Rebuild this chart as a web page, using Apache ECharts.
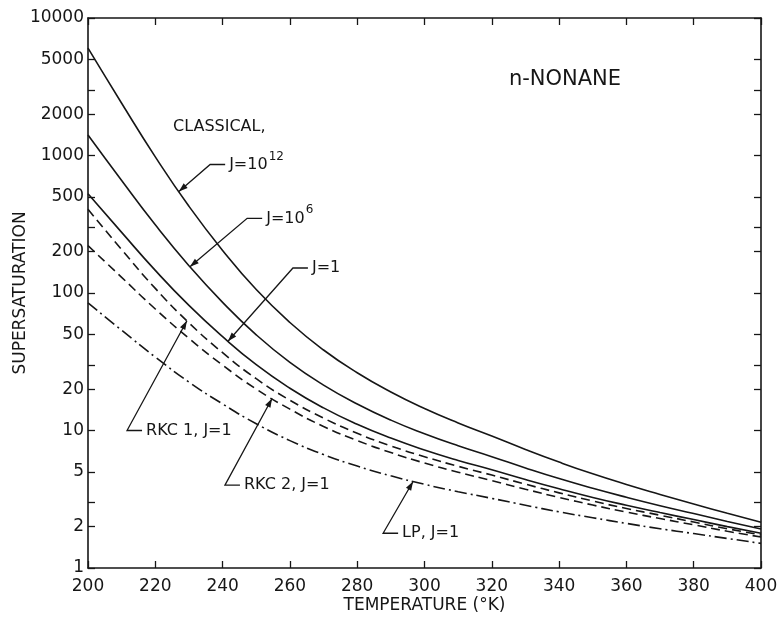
<!DOCTYPE html>
<html>
<head>
<meta charset="utf-8">
<script src="https://cdn.jsdelivr.net/npm/echarts@6/dist/echarts.min.js"></script>
<style>
  html, body { margin: 0; padding: 0; background: #fff; }
  #chart { width: 782px; height: 621px; }
</style>
</head>
<body>
<div id="chart"></div>
<script>
// temperature grid (K)
const temps = [200, 210, 220, 230, 240, 250, 260, 270, 280, 290, 300, 310, 320, 330, 340, 350, 360, 370, 380, 390, 400]

// supersaturation
const classicalJ12 = [6030, 2400, 977, 427, 204, 105.9, 61.0, 38.5, 26.3, 19.05, 14.45, 11.35, 9.12, 7.28, 5.89, 4.84, 4.05, 3.43, 2.92, 2.50, 2.15]
const classicalJ6 = [1410, 658, 313, 158, 85.5, 49.6, 31.3, 21.4, 15.6, 11.9, 9.47, 7.74, 6.45, 5.34, 4.47, 3.80, 3.27, 2.84, 2.49, 2.18, 1.92]
const classicalJ1 = [527, 276, 146, 81.2, 48.1, 30.1, 20.3, 14.6, 11.1, 8.81, 7.22, 6.06, 5.18, 4.40, 3.77, 3.26, 2.86, 2.53, 2.25, 2.00, 1.79]
const rkc1 = [406, 207, 108, 60.7, 36.8, 23.8, 16.6, 12.3, 9.54, 7.73, 6.45, 5.49, 4.74, 4.07, 3.52, 3.07, 2.71, 2.42, 2.16, 1.93, 1.74]
const rkc2 = [221, 130, 76.5, 46.8, 29.9, 20.0, 14.3, 10.7, 8.46, 6.91, 5.80, 4.97, 4.32, 3.74, 3.26, 2.87, 2.55, 2.29, 2.06, 1.85, 1.68]
const lp = [84.7, 53.6, 34.2, 22.5, 15.6, 11.2, 8.44, 6.68, 5.51, 4.68, 4.06, 3.59, 3.21, 2.86, 2.56, 2.32, 2.11, 1.93, 1.78, 1.64, 1.51]

// axis ticks
const yTickValues = [1, 2, 3, 5, 10, 20, 30, 50, 100, 200, 300, 500, 1000, 2000, 3000, 5000, 10000]
const yLabelValues = [1, 2, 5, 10, 20, 50, 100, 200, 500, 1000, 2000, 5000, 10000]

// callouts: [label, tip T, tip S, elbow T, elbow S, superscript]
const callouts = [
  ['J=10', 227.0, 547, 236.3, 860, '12'],
  ['J=10', 230.3, 155, 247.3, 349, '6'],
  ['J=1', 241.6, 44.6, 260.9, 152, ''],
  ['RKC 1, J=1', 229.4, 62.8, 211.6, 10, ''],
  ['RKC 2, J=1', 254.7, 17.1, 240.7, 4.0, ''],
  ['LP, J=1', 296.6, 4.26, 287.7, 1.79, ''],
]

const ink = '#161616'
const font = 'DejaVu Sans'

const pair = (ys) => temps.map((t, i) => [t, ys[i]])

const curve = (name, ys, type) => ({
  name,
  type: 'line',
  data: pair(ys),
  smooth: 0.5,
  showSymbol: false,
  symbol: 'none',
  silent: true,
  lineStyle: { color: ink, width: 1.6, type },
})

const chart = echarts.init(document.getElementById('chart'))

const tickStyle = { color: ink, width: 1.3 }
const lineStyle = { color: ink, width: 1.6 }

chart.setOption({
  animation: false,
  backgroundColor: '#fff',
  grid: { left: 88, right: 21, top: 18, bottom: 53, containLabel: false, outerBoundsMode: 'none' },
  xAxis: [
    {
      type: 'value', min: 200, max: 400, interval: 20, position: 'bottom',
      name: 'TEMPERATURE (°K)', nameLocation: 'middle', nameGap: 29, nameMoveOverlap: false,
      nameTextStyle: { color: ink, fontSize: 17, fontFamily: font },
      axisLine: { lineStyle },
      axisTick: { inside: true, length: 7, lineStyle: tickStyle },
      axisLabel: { color: ink, fontSize: 17, fontFamily: font, margin: 10 },
      splitLine: { show: false },
    },
    {
      type: 'value', min: 200, max: 400, interval: 20, position: 'top',
      axisLine: { lineStyle },
      axisTick: { inside: true, length: 7, lineStyle: tickStyle },
      axisLabel: { show: false },
      splitLine: { show: false },
    },
  ],
  yAxis: [
    {
      type: 'log', logBase: 10, min: 1, max: 10000, position: 'left',
      name: 'SUPERSATURATION', nameLocation: 'middle', nameGap: 59, nameMoveOverlap: false,
      nameTextStyle: { color: ink, fontSize: 17, fontFamily: font },
      axisLine: { lineStyle },
      axisTick: { inside: true, length: 7, lineStyle: tickStyle, customValues: yTickValues },
      axisLabel: {
        color: ink, fontSize: 17, fontFamily: font, margin: 4,
        customValues: yLabelValues,
        formatter: (v) => String(Math.round(v)),
      },
      splitLine: { show: false },
    },
    {
      type: 'log', logBase: 10, min: 1, max: 10000, position: 'right',
      axisLine: { lineStyle },
      axisTick: { inside: true, length: 7, lineStyle: tickStyle, customValues: yTickValues },
      axisLabel: { show: false },
      splitLine: { show: false },
    },
  ],
  series: [
    curve('J=1e12', classicalJ12, 'solid'),
    curve('J=1e6', classicalJ6, 'solid'),
    curve('J=1', classicalJ1, 'solid'),
    curve('RKC 1', rkc1, [9, 5]),
    curve('RKC 2', rkc2, [9, 5]),
    curve('LP', lp, [12, 4, 2, 4]),
  ],
})

// leader lines and labels placed from data coordinates
const measure = (() => {
  const ctx = document.createElement('canvas').getContext('2d')
  return (text, size) => { ctx.font = size + 'px ' + font; return ctx.measureText(text).width }
})()

const labelSize = 16

const elements = [
  { type: 'text', x: 565, y: 80, style: { text: 'n-NONANE', fill: ink, fontSize: 21, fontFamily: font, align: 'center', verticalAlign: 'middle' } },
  { type: 'text', x: 173, y: 127, style: { text: 'CLASSICAL,', fill: ink, fontSize: labelSize, fontFamily: font, align: 'left', verticalAlign: 'middle' } },
]

callouts.forEach(([label, tT, tS, eT, eS, sup]) => {
  const tip = chart.convertToPixel({ gridIndex: 0 }, [tT, tS])
  const elbow = chart.convertToPixel({ gridIndex: 0 }, [eT, eS])
  const end = [elbow[0] + 15, elbow[1]]
  elements.push({
    type: 'polyline', silent: true,
    shape: { points: [tip, elbow, end] },
    style: { stroke: ink, lineWidth: 1.3, fill: null },
  })
  const dx = tip[0] - elbow[0], dy = tip[1] - elbow[1]
  const len = Math.hypot(dx, dy)
  const ux = dx / len, uy = dy / len
  const L = 9, W = 3
  elements.push({
    type: 'polygon', silent: true,
    shape: { points: [tip, [tip[0] - ux * L - uy * W, tip[1] - uy * L + ux * W], [tip[0] - ux * L + uy * W, tip[1] - uy * L - ux * W]] },
    style: { fill: ink },
  })
  const tx = end[0] + 4
  elements.push({ type: 'text', x: tx, y: elbow[1], style: { text: label, fill: ink, fontSize: labelSize, fontFamily: font, align: 'left', verticalAlign: 'middle' } })
  if (sup) {
    elements.push({ type: 'text', x: tx + measure(label, labelSize) + 1, y: elbow[1] - 8, style: { text: sup, fill: ink, fontSize: 12, fontFamily: font, align: 'left', verticalAlign: 'middle' } })
  }
})

chart.setOption({ graphic: { elements } })
</script>
</body>
</html>
